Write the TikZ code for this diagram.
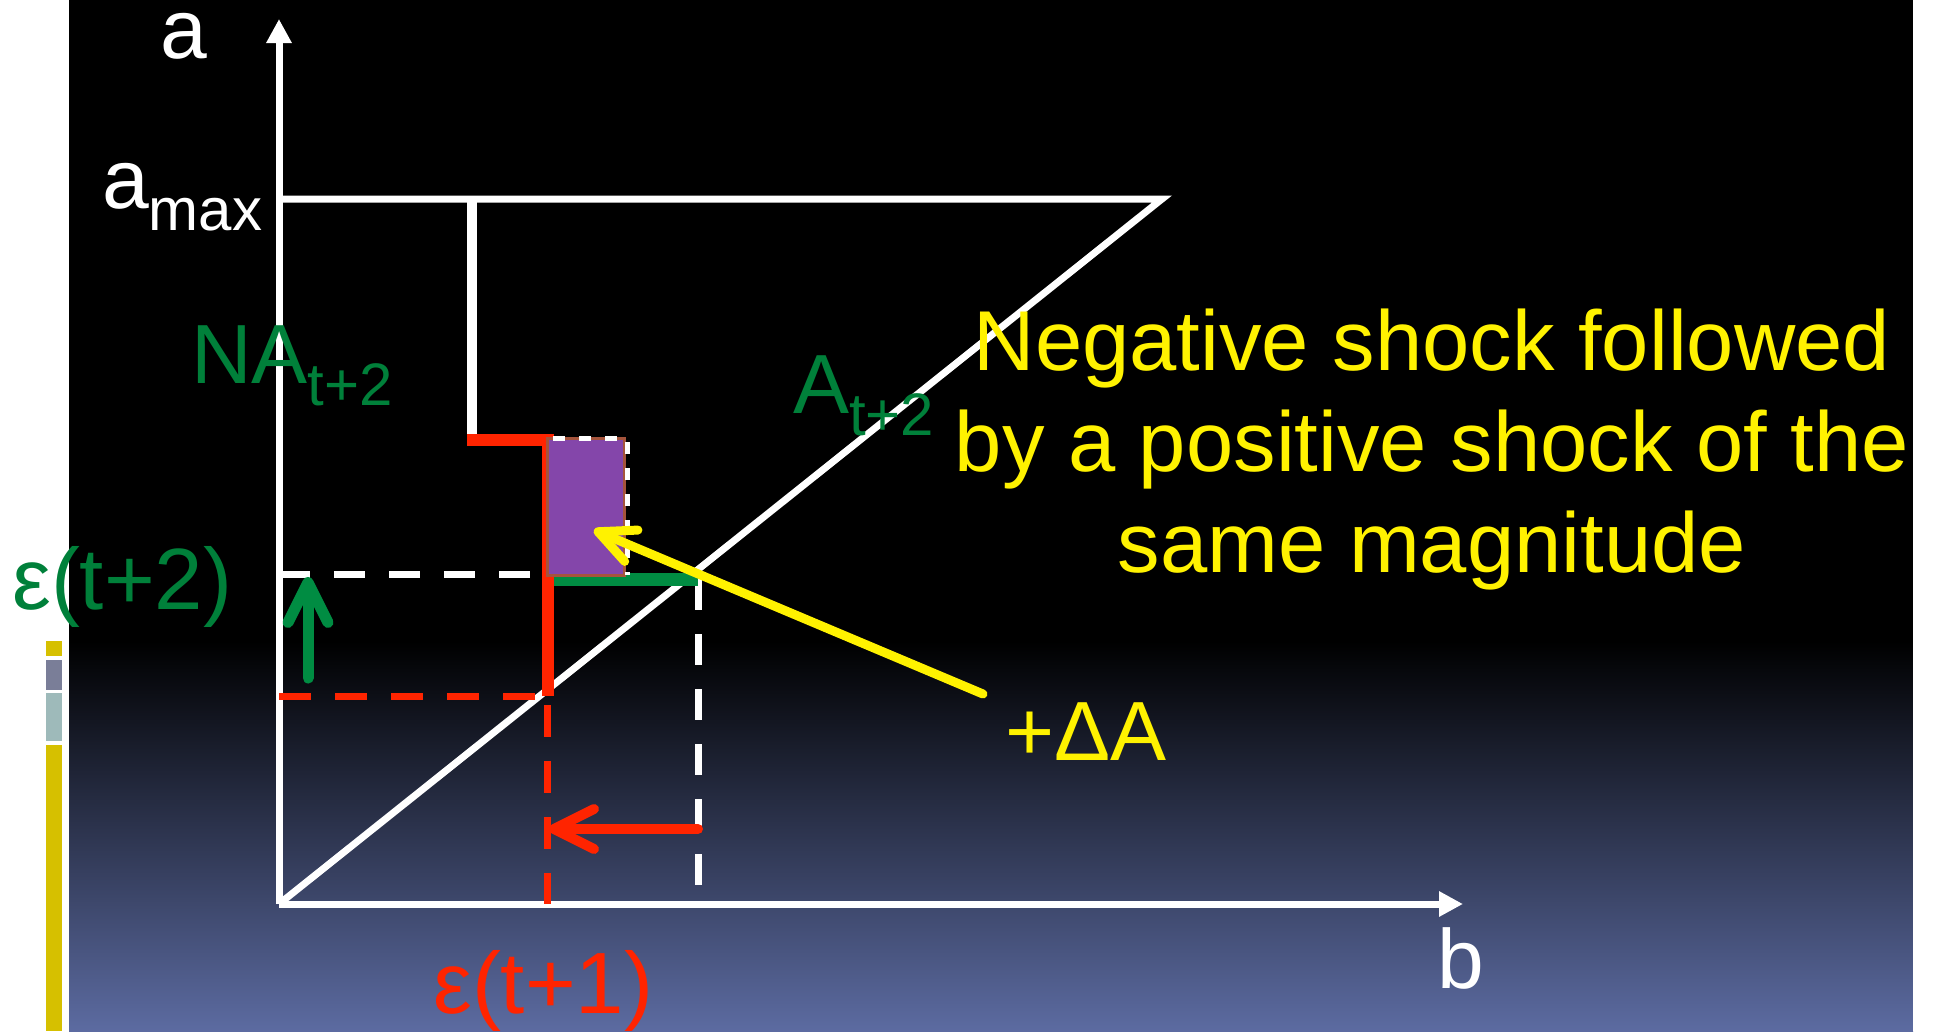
\documentclass[tikz,border=0pt]{standalone}
\usepackage{fontspec}
\setmainfont{Liberation Sans}
\usetikzlibrary{arrows.meta}
\definecolor{shockred}{RGB}{255,36,0}
\definecolor{shockgreen}{RGB}{0,128,58}
\definecolor{arrowgreen}{RGB}{0,140,66}
\definecolor{gainpurple}{RGB}{132,70,170}
\definecolor{gainedge}{RGB}{165,84,60}
\definecolor{slidebottom}{RGB}{92,107,161}
\definecolor{baryellow}{RGB}{214,192,0}
\definecolor{bargray}{RGB}{122,126,152}
\definecolor{barteal}{RGB}{158,186,186}
\newcommand{\lowsub}[1]{{\fontsize{60}{60}\selectfont\raisebox{-22pt}{#1}}}

\begin{document}
\begin{tikzpicture}[x=1pt, y=-1pt,
  lbl/.style={anchor=base west, inner sep=0pt, font=\fontsize{84}{84}\selectfont},
  axis/.style={white, line width=7pt, -{Triangle[length=24pt,width=24pt]}},
  wline/.style={white, line width=7pt},
  wdash/.style={white, line width=7pt, dash pattern=on 31pt off 24pt},
  rdash/.style={shockred, line width=7pt, dash pattern=on 32pt off 24pt},
  shockarrow/.style={line width=10pt, line cap=round,
    -{Straight Barb[length=40pt,width=40pt,line cap=round,line join=round]}},
  gainbox/.style={fill=gainpurple, draw=gainedge, line width=3pt,
    minimum width=77pt, minimum height=137pt, inner sep=0pt, outer sep=0pt}]
\useasboundingbox (0,0) rectangle (1934,1031);
\fill[black] (69,0) rectangle (1913,642);
\shade[top color=black, bottom color=slidebottom] (69,641) rectangle (1913,1031);
\fill[baryellow] (46,641) rectangle (62,656);
\fill[bargray] (46,660) rectangle (62,690);
\fill[barteal] (46,693) rectangle (62,741);
\fill[baryellow] (46,745) rectangle (62,1031);

\coordinate (O) at (279,904);
\coordinate (ytop) at (279,19);
\coordinate (xend) at (1463,904);
\coordinate (amax) at (279,199);
\coordinate (amaxR) at (1162,199);
\coordinate (naTop) at (472,199);
\coordinate (naBot) at (472,440);
\coordinate (kink) at (548,440);
\coordinate (kinkB) at (548,696);
\coordinate (eqL) at (279,574);
\coordinate (eqM) at (547,574);
\coordinate (eqR) at (698,579);
\coordinate (eqB) at (698,886);
\coordinate (oldL) at (279,696);
\coordinate (oldT) at (547,705);
\coordinate (oldB) at (547,904);

\draw[axis] (O) -- (ytop);
\draw[axis] (O) -- (xend);
\draw[wline] (amax) -- (amaxR) -- (O);
\draw[white, line width=10pt] (naTop) -- (naBot);
\draw[wdash] (eqL) -- (eqM);
\draw[wdash] (eqR) -- (eqB);
\draw[arrowgreen, line width=13pt] (547,579) -- (eqR);
\draw[rdash] (oldL) -- (kinkB);
\draw[rdash] (oldT) -- (oldB);
\draw[shockred, line width=12pt] (467,440) -- (kink) -- (kinkB);
\node[gainbox] (gain) at (585.5,506.5) {};
\draw[white, line width=5pt, dash pattern=on 12pt off 14pt]
  (553,438) -- (627,438) -- (627,575);

\draw[shockarrow, shockred] (698,829) -- (549,829);
\draw[shockarrow, arrowgreen, line width=11pt] (308,678) -- (308,577);
\draw[shockarrow, yellow, line width=9pt,
  -{Straight Barb[length=36pt,width=34pt,line cap=round,line join=round]}]
  (983,694) -- (594,530);

\node[lbl, white] (alab) at (160,58) {a};
\node[lbl, white] (amaxlab) at (102,208) {a\lowsub{max}};
\node[lbl, shockgreen] (nalab) at (191,383) {NA\lowsub{t+2}};
\node[lbl, shockgreen] (alab2) at (793,413) {A\lowsub{t+2}};
\node[lbl, shockgreen, font=\fontsize{87}{87}\selectfont] (eps2) at (12,609) {ε(t+2)};
\node[lbl, shockred, font=\fontsize{87}{87}\selectfont] (eps1) at (433,1013) {ε(t+1)};
\node[lbl, yellow] (dA) at (1005,760) {+ΔA};
\node[lbl, white] (blab) at (1437,988) {b};
\node[anchor=base, inner sep=0pt, align=center, yellow,
  font=\fontsize{85}{101}\selectfont] (caption) at (1432,572)
  {Negative shock followed\\by a positive shock of the\\same magnitude};
\fill[white] (1913,0) rectangle (1934,1031);
\end{tikzpicture}
\end{document}
